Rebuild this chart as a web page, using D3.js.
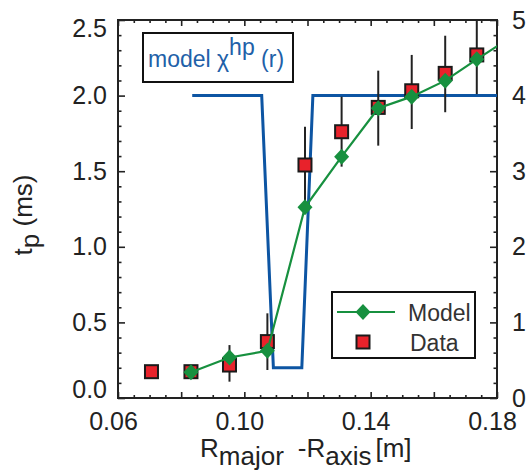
<!DOCTYPE html>
<html><head><meta charset="utf-8">
<script src="https://cdn.jsdelivr.net/npm/d3@7"></script>
<style>body{margin:0;background:#fff} text{font-family:"Liberation Sans",Arial,Helvetica,sans-serif}</style>
</head><body>
<svg id="c" width="532" height="472"></svg>
<script>
// ---- data ----
const dataX   = [0.0706, 0.0831, 0.0953, 0.1073, 0.1192, 0.1308, 0.1424, 0.1530, 0.1636, 0.1736];
const dataY   = [0.174, 0.174, 0.218, 0.373, 1.541, 1.761, 1.922, 2.032, 2.147, 2.269];
const errLo   = [null, null, 0.108, 0.185, 1.29, 1.53, 1.669, 1.779, 1.89, 2.01];
const errHi   = [null, null, 0.35, 0.56, 1.794, 1.993, 2.165, 2.269, 2.396, 2.53];
const modelX  = [0.0831, 0.0953, 0.1073, 0.1192, 0.1308, 0.1424, 0.1530, 0.1636, 0.1736, 0.1840];
const modelY  = [0.170, 0.268, 0.312, 1.261, 1.596, 1.916, 1.993, 2.099, 2.240, 2.380];
const chiX    = [0.0835, 0.1055, 0.1092, 0.1182, 0.1217, 0.1840];
const chiY    = [4.0, 4.0, 0.4, 0.4, 4.0, 4.0];   // right axis
const xTicks  = [0.06, 0.08, 0.10, 0.12, 0.14, 0.16, 0.18];
const xLabels = ["0.06", "", "0.10", "", "0.14", "", "0.18"];
const yTicks  = [0, 0.5, 1.0, 1.5, 2.0, 2.5];
const y2Ticks = [0, 1, 2, 3, 4, 5];

const svg = d3.select("#c");
const L = 118, R = 497, T = 20, B = 398;
const x = d3.scaleLinear().domain([0.06, 0.18]).range([L, R]);
const y = d3.scaleLinear().domain([0, 2.5]).range([B, T]);
const y2 = d3.scaleLinear().domain([0, 5]).range([B, T]);

const ink = "#222";
const blue = "#0d55a3", green = "#17903f", red = "#e8222b";

svg.append("defs").append("clipPath").attr("id", "clip")
  .append("rect").attr("x", L).attr("y", T).attr("width", R - L).attr("height", B - T);

// minor ticks
const xMinor = d3.range(0.065, 0.18, 0.005).filter(v => Math.abs((v * 1000) % 20) > 0.5 && Math.abs((v * 1000) % 20 - 20) > 0.5);
const yMinor = d3.range(0.1, 2.5, 0.1).filter(v => Math.abs((v * 10) % 5) > 0.1 && Math.abs((v * 10) % 5 - 5) > 0.1);
const y2Minor = d3.range(0.2, 5, 0.2).filter(v => Math.abs(v - Math.round(v)) > 0.05);

function styleAxis(g) {
  g.select(".domain").remove();
  g.selectAll("line").attr("stroke", ink).attr("stroke-width", 1.6);
  g.selectAll("text").attr("font-size", 25).attr("fill", ink)
   .style("font-family", '"Liberation Sans",Arial,sans-serif');
}
// bottom
svg.append("g").attr("transform", `translate(0,${B})`)
  .call(d3.axisBottom(x).tickValues(xMinor).tickFormat("").tickSizeInner(-3).tickSizeOuter(0)).call(styleAxis);
const gb = svg.append("g").attr("transform", `translate(0,${B})`)
  .call(d3.axisBottom(x).tickValues(xTicks).tickFormat((d, i) => xLabels[i]).tickSizeInner(-6).tickSizeOuter(0).tickPadding(14)).call(styleAxis);
gb.selectAll("text").attr("x", -5);
// top
svg.append("g").attr("transform", `translate(0,${T})`)
  .call(d3.axisTop(x).tickValues(xMinor).tickFormat("").tickSizeInner(-3).tickSizeOuter(0)).call(styleAxis);
svg.append("g").attr("transform", `translate(0,${T})`)
  .call(d3.axisTop(x).tickValues(xTicks).tickFormat("").tickSizeInner(-6).tickSizeOuter(0)).call(styleAxis);
// left
svg.append("g").attr("transform", `translate(${L},0)`)
  .call(d3.axisLeft(y).tickValues(yMinor).tickFormat("").tickSizeInner(-3.5).tickSizeOuter(0)).call(styleAxis);
const gl = svg.append("g").attr("transform", `translate(${L},0)`)
  .call(d3.axisLeft(y).tickValues(yTicks).tickFormat(d3.format(".1f")).tickSizeInner(-7).tickSizeOuter(0).tickPadding(11)).call(styleAxis);
gl.selectAll("text").attr("dy", d => d === 0 ? "-0.03em" : d === 2.5 ? "0.66em" : "0.32em");
// right
svg.append("g").attr("transform", `translate(${R},0)`)
  .call(d3.axisRight(y2).tickValues(y2Minor).tickFormat("").tickSizeInner(-3.5).tickSizeOuter(0)).call(styleAxis);
svg.append("g").attr("transform", `translate(${R},0)`)
  .call(d3.axisRight(y2).tickValues(y2Ticks).tickFormat(d3.format("d")).tickSizeInner(-7).tickSizeOuter(0).tickPadding(15)).call(styleAxis);

// frame
svg.append("rect").attr("x", L).attr("y", T).attr("width", R - L).attr("height", B - T)
  .attr("fill", "none").attr("stroke", ink).attr("stroke-width", 2);

const plot = svg.append("g").attr("clip-path", "url(#clip)");

// chi line
const chiPts = chiX.map((v, i) => [v, chiY[i]]);
plot.append("path").attr("d", d3.line().x(d => x(d[0])).y(d => y2(d[1]))(chiPts))
  .attr("fill", "none").attr("stroke", blue).attr("stroke-width", 3).attr("stroke-linejoin", "miter");

// error bars
const dPts = dataX.map((v, i) => ({x: v, y: dataY[i], lo: errLo[i], hi: errHi[i]}));
plot.selectAll(".err").data(dPts.filter(d => d.lo !== null)).join("line")
  .attr("x1", d => x(d.x)).attr("x2", d => x(d.x))
  .attr("y1", d => y(d.lo)).attr("y2", d => y(d.hi))
  .attr("stroke", ink).attr("stroke-width", 2);

// squares
const S = 13;
plot.selectAll(".sq").data(dPts).join("rect")
  .attr("x", d => x(d.x) - S / 2).attr("y", d => y(d.y) - S / 2)
  .attr("width", S).attr("height", S)
  .attr("fill", red).attr("stroke", "#1a1a1a").attr("stroke-width", 2);

// model line + diamonds
const mPts = modelX.map((v, i) => [v, modelY[i]]);
plot.append("path").attr("d", d3.line().x(d => x(d[0])).y(d => y(d[1]))(mPts))
  .attr("fill", "none").attr("stroke", green).attr("stroke-width", 2.2);
const dia = (cx, cy, w, h) => `M${cx},${cy - h}L${cx + w},${cy}L${cx},${cy + h}L${cx - w},${cy}Z`;
plot.selectAll(".dm").data(mPts).join("path")
  .attr("d", d => dia(x(d[0]), y(d[1]), 7.5, 8)).attr("fill", green);

// title box
svg.append("rect").attr("x", 143).attr("y", 33).attr("width", 150).attr("height", 49)
  .attr("fill", "#fff").attr("stroke", "#111").attr("stroke-width", 2);
const tt = svg.append("text").attr("x", 148).attr("y", 67).attr("font-size", 23).attr("fill", "#2160a8");
tt.append("tspan").text("model χ");
tt.append("tspan").attr("dy", -12).text("hp");
tt.append("tspan").attr("dy", 12).text(" (r)");

// legend
svg.append("rect").attr("x", 332).attr("y", 292).attr("width", 143).attr("height", 66)
  .attr("fill", "#fff").attr("stroke", "#111").attr("stroke-width", 2);
svg.append("line").attr("x1", 337).attr("x2", 395).attr("y1", 312).attr("y2", 312)
  .attr("stroke", green).attr("stroke-width", 2.2);
svg.append("path").attr("d", dia(363, 312, 7.5, 8)).attr("fill", green);
svg.append("rect").attr("x", 363 - S / 2).attr("y", 342 - S / 2).attr("width", S).attr("height", S)
  .attr("fill", red).attr("stroke", "#1a1a1a").attr("stroke-width", 2);
svg.append("text").attr("x", 408).attr("y", 321).attr("font-size", 23).attr("fill", "#333").text("Model");
svg.append("text").attr("x", 410).attr("y", 351).attr("font-size", 23).attr("fill", "#333").text("Data");

// x label
const xl = svg.append("text").attr("x", 200).attr("y", 457).attr("font-size", 26).attr("fill", ink);
xl.append("tspan").text("R");
xl.append("tspan").attr("dy", 8).text("major");
xl.append("tspan").attr("dy", -8).attr("dx", 14).text("-R");
xl.append("tspan").attr("dy", 8).text("axis");
xl.append("tspan").attr("dy", -8).attr("dx", 4).text("[m]");

// y label
const yl = svg.append("text").attr("transform", "translate(32,215) rotate(-90)")
  .attr("text-anchor", "middle").attr("font-size", 26).attr("fill", ink);
yl.append("tspan").text("t");
yl.append("tspan").attr("dy", 7).text("p");
yl.append("tspan").attr("dy", -7).text(" (ms)");
</script>
</body></html>
